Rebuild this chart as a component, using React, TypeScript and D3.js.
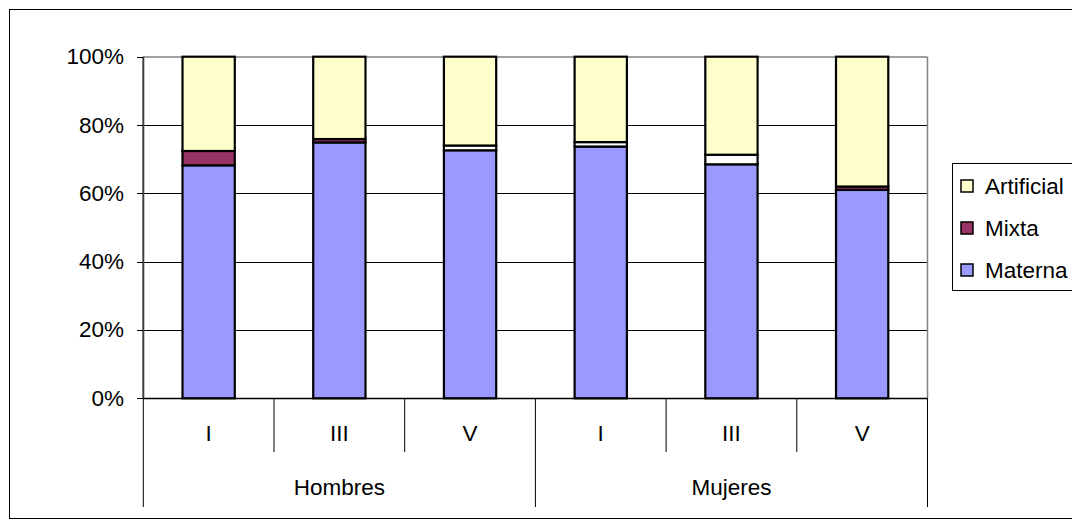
import React from "react";
import * as d3 from "d3";

const categories = ["I", "III", "V", "I", "III", "V"];
const groups = ["Hombres", "Mujeres"];
const materna = [68.2, 74.9, 72.6, 73.7, 68.5, 61.0];
const mixta = [4.2, 1.0, 0, 0, 0, 1.0];
const otra = [0, 0, 1.4, 1.3, 2.8, 0];
const artificial = [27.6, 24.1, 26.0, 25.0, 28.7, 38.0];
const yTicks = [0, 20, 40, 60, 80, 100];

const seriesKeys = ["Materna", "Mixta", "Otra", "Artificial"];
const colors: Record<string, string> = {
  Materna: "#9999FF",
  Mixta: "#993366",
  Otra: "#FFFFFF",
  Artificial: "#FFFFCC",
};
const legendKeys = ["Artificial", "Mixta", "Materna"];

const W = 1072;
const H = 526;
const plot = { left: 143.3, right: 927.5, top: 56.7, bottom: 398.3 };
const FONT = "'Liberation Sans', Arial, sans-serif";
const FS = 22.5;

export default function App() {
  const rows = categories.map((c, i) => ({
    idx: i,
    Materna: materna[i],
    Mixta: mixta[i],
    Otra: otra[i],
    Artificial: artificial[i],
  }));
  const stack = d3.stack<any>().keys(seriesKeys)(rows);
  const x = d3
    .scaleBand<number>()
    .domain(categories.map((_, i) => i))
    .range([plot.left, plot.right])
    .paddingInner(0)
    .paddingOuter(0);
  const y = d3.scaleLinear().domain([0, 100]).range([plot.bottom, plot.top]);
  const bw = x.bandwidth() * 0.4;
  const groupWidth = (plot.right - plot.left) / groups.length;

  return (
    <svg
      width={W}
      height={H}
      style={{ position: "absolute", left: 0, top: 0 }}
      fontFamily={FONT}
    >
      <rect x={0} y={0} width={W} height={H} fill="#fff" />
      <rect x={9.5} y={9.5} width={1080} height={509} fill="none" stroke="#000" strokeWidth={1} />
      {/* gridlines */}
      {yTicks.filter((t) => t > 0 && t < 100).map((t) => (
        <line key={t} x1={plot.left} x2={plot.right} y1={Math.round(y(t)) + 0.5} y2={Math.round(y(t)) + 0.5} stroke="#000" strokeWidth={1} />
      ))}
      {/* plot border */}
      <line x1={plot.left} x2={plot.right} y1={57} y2={57} stroke="#808080" strokeWidth={1.5} />
      <line x1={plot.right} x2={plot.right} y1={57} y2={plot.bottom} stroke="#808080" strokeWidth={1.5} />
      {/* bars */}
      {stack.map((s) => (
        <g key={s.key}>
          {s.map((d, i) => {
            const h = y(d[0]) - y(d[1]);
            if (h <= 0) return null;
            const cx = (x(i) as number) + x.bandwidth() / 2;
            return (
              <rect
                key={i}
                x={cx - bw / 2}
                y={y(d[1])}
                width={bw}
                height={h}
                fill={colors[s.key]}
                stroke="#000"
                strokeWidth={2.2}
              />
            );
          })}
        </g>
      ))}
      {/* y axis */}
      <line x1={plot.left} x2={plot.left} y1={plot.top} y2={plot.bottom} stroke="#404040" strokeWidth={2} />
      {yTicks.map((t) => (
        <g key={t}>
          <line x1={137} x2={plot.left} y1={Math.round(y(t)) + 0.5} y2={Math.round(y(t)) + 0.5} stroke="#000" strokeWidth={1} />
          <text x={124} y={y(t)} textAnchor="end" dominantBaseline="central" fontSize={FS} fill="#000">
            {t}%
          </text>
        </g>
      ))}
      {/* x axis */}
      <line x1={plot.left} x2={plot.right} y1={398.5} y2={398.5} stroke="#000" strokeWidth={1.5} />
      {categories.map((c, i) => {
        const x0 = x(i) as number;
        const isGroupEdge = i % 3 === 0;
        return (
          <g key={i}>
            <line x1={x0} x2={x0} y1={398} y2={isGroupEdge ? 507 : 452} stroke="#000" strokeWidth={1} />
            <text x={x0 + x.bandwidth() / 2} y={433} textAnchor="middle" dominantBaseline="central" fontSize={FS} fill="#000">
              {c}
            </text>
          </g>
        );
      })}
      <line x1={plot.right} x2={plot.right} y1={398} y2={507} stroke="#000" strokeWidth={1} />
      {groups.map((g, gi) => (
        <text
          key={g}
          x={plot.left + groupWidth * (gi + 0.5)}
          y={487}
          textAnchor="middle"
          dominantBaseline="central"
          fontSize={FS}
          fill="#000"
        >
          {g}
        </text>
      ))}
      {/* legend */}
      <rect x={952.5} y={163.5} width={140} height={127} fill="#fff" stroke="#000" strokeWidth={1} />
      {legendKeys.map((k, i) => {
        const cy = 186 + i * 42;
        return (
          <g key={k}>
            <rect x={961} y={cy - 6} width={12} height={12} fill={colors[k]} stroke="#000" strokeWidth={1.5} />
            <text x={985} y={cy} dominantBaseline="central" fontSize={FS} fill="#000">
              {k}
            </text>
          </g>
        );
      })}
    </svg>
  );
}
